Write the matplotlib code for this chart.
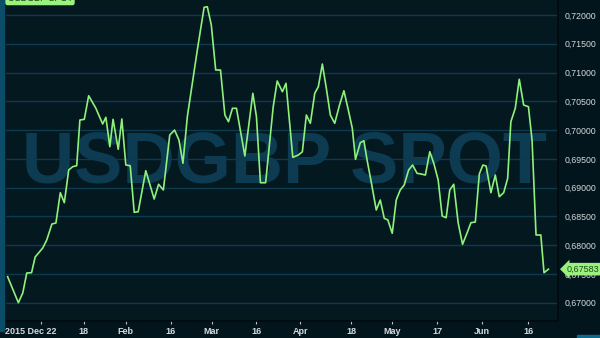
import matplotlib.pyplot as plt
from matplotlib.patches import Rectangle
from matplotlib.ticker import FuncFormatter
from matplotlib.transforms import ScaledTranslation

# trading day index (approx.) and spot rate
days = [0.0, 2.7, 3.8, 4.8, 6.0, 6.9, 8.8, 9.8, 11.1, 12.1, 13.2, 14.2, 15.3, 16.3,
        17.3, 18.1, 19.2, 20.3, 22.1, 23.8, 24.6, 25.6, 26.4, 27.7, 28.6, 29.6,
        30.7, 31.7, 32.7, 34.6, 36.7, 37.8, 39.0, 40.6, 41.8, 42.9, 43.9, 45.0,
        47.5, 49.2, 50.0, 51.0, 52.1, 53.3, 54.4, 55.3, 56.3, 57.3, 59.4, 61.4,
        62.3, 63.3, 64.6, 66.5, 67.5, 68.8, 69.7, 71.4, 72.8, 73.8, 74.8, 75.8,
        76.9, 77.8, 78.8, 79.8, 80.8, 81.9, 83.1, 84.2, 85.4, 86.3, 87.1, 88.3,
        89.2, 90.0, 91.1, 92.3, 93.3, 94.3, 95.2, 96.3, 97.3, 98.3, 99.3, 100.4,
        101.4, 102.5, 103.5, 104.6, 105.7, 106.7, 107.8, 108.8, 109.8, 110.7,
        111.7, 112.8, 113.9, 115.0, 116.0, 117.1, 118.1, 119.0, 119.8, 121.0,
        122.1, 123.1, 124.2, 125.2, 126.0, 127.1, 128.1, 129.2, 130.4, 131.3,
        132.3, 133.5, 134.3, 135.4]
rate = [0.67452, 0.67000, 0.67169, 0.67516, 0.67522, 0.67794, 0.67951, 0.68090,
        0.68368, 0.68385, 0.68912, 0.68738, 0.69306, 0.69364, 0.69381, 0.70175,
        0.70187, 0.70597, 0.70379, 0.70106, 0.70222, 0.69711, 0.70187, 0.69666,
        0.70193, 0.69393, 0.69381, 0.68571, 0.68582, 0.69294, 0.68802, 0.69058,
        0.68959, 0.69914, 0.70001, 0.69828, 0.69423, 0.70233, 0.71392, 0.72134,
        0.72144, 0.71826, 0.71044, 0.71044, 0.70262, 0.70146, 0.70379, 0.70379,
        0.69550, 0.70639, 0.70233, 0.69085, 0.69085, 0.70406, 0.70853, 0.70667,
        0.70813, 0.69527, 0.69567, 0.69624, 0.70262, 0.70118, 0.70639, 0.70754,
        0.71148, 0.70726, 0.70262, 0.70118, 0.70436, 0.70684, 0.70319, 0.70031,
        0.69492, 0.69781, 0.69815, 0.69480, 0.69075, 0.68611, 0.68785, 0.68467,
        0.68437, 0.68206, 0.68785, 0.68959, 0.69046, 0.69306, 0.69393, 0.69249,
        0.69237, 0.69219, 0.69624, 0.69423, 0.69132, 0.68507, 0.68477, 0.68959,
        0.69058, 0.68390, 0.68015, 0.68206, 0.68390, 0.68402, 0.69237, 0.69393,
        0.69376, 0.68912, 0.69219, 0.68842, 0.68912, 0.69162, 0.70146, 0.70379,
        0.70883, 0.70436, 0.70406, 0.69828, 0.68177, 0.68177, 0.67521, 0.67583]

tick_days = [8.3, 19.1, 29.6, 40.8, 51.1, 62.3, 73.3, 86.1, 96.3, 107.6, 118.8, 130.4]
tick_labels = ['2015 Dec 22', '18', 'Feb', '16', 'Mar', '16', 'Apr', '18', 'May', '17', 'Jun', '16']
y_ticks = [0.670, 0.675, 0.680, 0.685, 0.690, 0.695, 0.700, 0.705, 0.710, 0.715, 0.720]
title = 'USDGBP SPOT'

bg = '#041820'
grid_c = '#0c3a4e'
line_c = '#8ef27a'
text_c = '#d4dadd'

plt.rcParams['font.family'] = ['Liberation Sans', 'DejaVu Sans']

fig = plt.figure(figsize=(6, 3.38), dpi=100, facecolor='#03151c')
ax = fig.add_axes([6 / 600, 17 / 338, 552 / 600, 321 / 338], facecolor=bg)

# watermark
ax.text(0.505, 0.433, title, transform=ax.transAxes, ha='center', va='baseline',
        fontsize=52, fontweight='bold', color='#0c3b52', zorder=0)

for v in y_ticks:
    ax.axhline(v, color=grid_c, lw=1.0, zorder=1)

ax.plot(days, rate, color=line_c, lw=1.2, zorder=3)

ax.set_xlim(-0.4, 137.8)
ax.set_ylim(0.66682, 0.72261)

ax.yaxis.tick_right()
ax.set_yticks(y_ticks)
ax.yaxis.set_major_formatter(FuncFormatter(lambda v, p: f'{v:.5f}'.replace('.', ',')))
ax.tick_params(axis='y', length=0, pad=5, labelsize=6.3, labelcolor=text_c)

ax.set_xticks(tick_days)
ax.set_xticklabels(tick_labels, fontweight='bold')
ax.tick_params(axis='x', length=2.5, width=0.8, color='#b8c2c8', pad=1.5,
               labelsize=6.5, labelcolor=text_c)
first = ax.get_xticklabels()[0]
first.set_transform(first.get_transform() + ScaledTranslation(-0.10, 0, fig.dpi_scale_trans))

for s in ['left', 'top']:
    ax.spines[s].set_visible(False)
for s in ['bottom', 'right']:
    ax.spines[s].set_color('#010a0e')
    ax.spines[s].set_linewidth(1.2)

# last value tag
ax.text(1.016, rate[-1], f'{rate[-1]:.5f}'.replace('.', ','),
        transform=ax.get_yaxis_transform(), ha='left', va='center', fontsize=6.5,
        color='#1f4a14', zorder=5, clip_on=False,
        bbox=dict(boxstyle='larrow,pad=0.2', fc='#9af27e', ec='none'))

# title tag, cut off by the top edge
fig.text(40 / 600, 1 + 1.5 / 338, title, ha='center', va='center', fontsize=6.5,
         color='#1a3a10', bbox=dict(boxstyle='round,pad=0.25', fc='#9af27e', ec='none'))

fig.patches.append(Rectangle((0, 0.02), 4 / 600, 0.98, transform=fig.transFigure,
                             color='#0b4d69', zorder=0))
fig.patches.append(Rectangle((577 / 600, 0), 23 / 600, 3 / 338, transform=fig.transFigure,
                             color='#0b6a8e', zorder=0))

fig.savefig('out.png', dpi=100, facecolor=fig.get_facecolor())
